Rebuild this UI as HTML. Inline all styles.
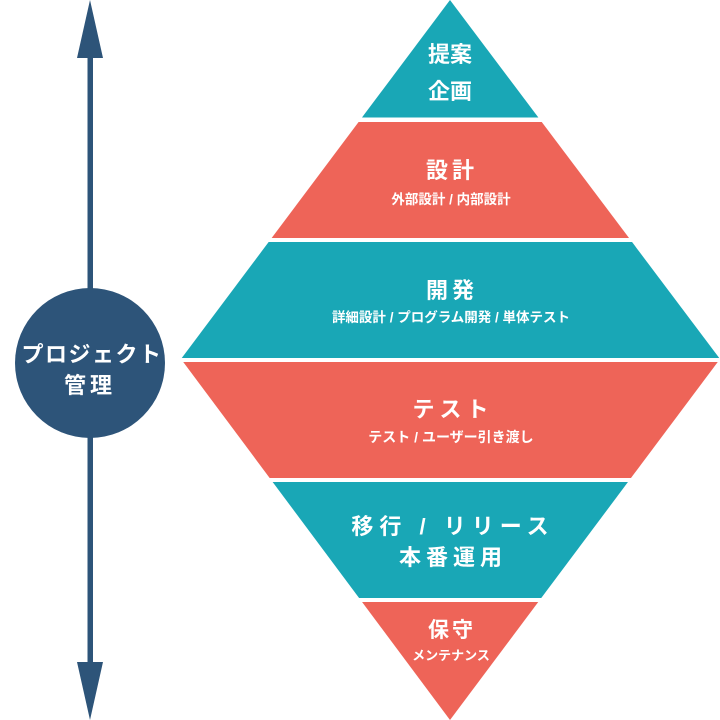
<!DOCTYPE html>
<html><head><meta charset="utf-8"><style>
html,body{margin:0;padding:0;background:#fff;}
svg{display:block;}
text{font-family:"Liberation Sans","Noto Sans CJK JP",sans-serif;font-weight:bold;fill:#fff;text-anchor:middle;}
</style></head><body>
<svg width="720" height="720" viewBox="0 0 720 720" xmlns="http://www.w3.org/2000/svg">
<defs>
<clipPath id="d"><polygon points="450,0 720,359 450,720 181,359"/></clipPath>
</defs>
<g clip-path="url(#d)">
<rect x="0" y="0" width="720" height="117.5" fill="#19a7b6"/>
<rect x="0" y="122" width="720" height="116" fill="#ee6458"/>
<rect x="0" y="242" width="720" height="116" fill="#19a7b6"/>
<rect x="0" y="362" width="720" height="116" fill="#ee6458"/>
<rect x="0" y="482" width="720" height="116" fill="#19a7b6"/>
<rect x="0" y="602" width="720" height="118" fill="#ee6458"/>
</g>
<rect x="87.5" y="50" width="5.5" height="620" fill="#2d5479"/>
<polygon points="90,0 103,58 77,58" fill="#2d5479"/>
<polygon points="90,720 103,662 77,662" fill="#2d5479"/>
<circle cx="90" cy="363" r="75" fill="#2d5479"/>
<text x="92" y="362" font-size="22" letter-spacing="1.5">プロジェクト</text>
<text x="90" y="393" font-size="22" letter-spacing="4">管理</text>
<text x="450" y="62" font-size="22">提案</text>
<text x="450" y="99" font-size="22">企画</text>
<text x="452" y="178" font-size="22" letter-spacing="4">設計</text>
<text x="451" y="204" font-size="13.5">外部設計 / 内部設計</text>
<text x="452" y="298" font-size="22" letter-spacing="4">開発</text>
<text x="451" y="322" font-size="13.5">詳細設計 / プログラム開発 / 単体テスト</text>
<text x="453" y="417" font-size="22" letter-spacing="5">テスト</text>
<text x="451" y="442" font-size="14">テスト / ユーザー引き渡し</text>
<text x="453" y="534" font-size="22" letter-spacing="6">移行 / リリース</text>
<text x="453" y="565" font-size="22" letter-spacing="5">本番運用</text>
<text x="452" y="637" font-size="21" letter-spacing="3">保守</text>
<text x="451" y="660" font-size="13">メンテナンス</text>
</svg>
</body></html>
